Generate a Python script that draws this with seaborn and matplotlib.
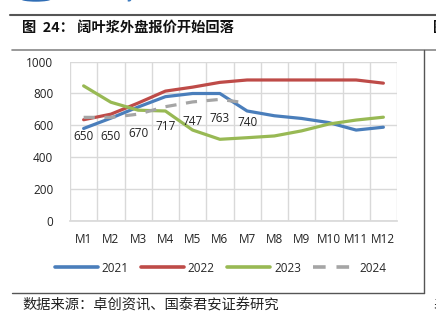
import numpy as np
import pandas as pd
import matplotlib
matplotlib.use("Agg")
import matplotlib.pyplot as plt
import seaborn as sns
from matplotlib.lines import Line2D
from matplotlib.patches import Ellipse

months = ["M1", "M2", "M3", "M4", "M5", "M6", "M7", "M8", "M9", "M10", "M11", "M12"]
v2021 = [580, 645, 715, 780, 800, 800, 690, 660, 643, 617, 570, 588]
v2022 = [635, 670, 740, 815, 840, 870, 885, 885, 885, 885, 885, 865]
v2023 = [848, 745, 695, 690, 570, 512, 522, 533, 565, 608, 633, 651]
v2024 = [650, 650, 670, 717, 747, 763, 740]
years = ["2021", "2022", "2023", "2024"]
colors = {"2021": "#4A7EBB", "2022": "#BE4B48", "2023": "#98B954", "2024": "#A5A5A5"}

rows = []
for yr, vals in zip(years, [v2021, v2022, v2023, v2024]):
    for i, v in enumerate(vals):
        rows.append({"month": i, "value": v, "year": yr})
df = pd.DataFrame(rows)

sns.set_theme(style="white")
plt.rcParams["font.family"] = ["Open Sans", "DejaVu Sans"]

W, H = 436, 323
fig = plt.figure(figsize=(W / 100, H / 100), dpi=100)
ax = fig.add_axes([70 / W, 1 - 220.7 / H, (397 - 70) / W, (220.7 - 61.7) / H])

sns.lineplot(data=df, x="month", y="value", hue="year", palette=colors,
             style="year", dashes={"2021": "", "2022": "", "2023": "", "2024": (3.5, 3)},
             linewidth=2.3, ax=ax, legend=False, sort=False)

for i, v in enumerate(v2024):
    ax.annotate(str(v), (i, v), xytext=(0, -14), textcoords="offset points",
                ha="center", va="center", fontsize=8.5, color="#222222")

ax.set_xlim(-0.5, 11.5)
ax.set_ylim(0, 1000)
ax.set_yticks(range(0, 1001, 200))
ax.set_xticks(range(12))
ax.set_xticklabels(months)
ax.set_xticks(np.arange(-0.5, 12, 1), minor=True)
ax.grid(False)
ax.grid(True, which="minor", axis="x", color="#D9D9D9", linewidth=1)
ax.grid(True, which="major", axis="y", color="#D9D9D9", linewidth=1)
ax.tick_params(axis="both", which="both", length=0, labelsize=8.5, colors="#222222")
ax.tick_params(axis="x", pad=9)
ax.tick_params(axis="y", pad=12)
ax.set_xlabel("")
ax.set_ylabel("")
for s in ax.spines.values():
    s.set_visible(False)
ax.spines["bottom"].set_visible(True)
ax.spines["bottom"].set_color("#D9D9D9")

handles = [Line2D([], [], color=colors[y], linewidth=2.6,
                  linestyle=(0, (3.5, 3)) if y == "2024" else "-") for y in years]
fig.legend(handles, years, loc="center", bbox_to_anchor=(221 / W, 1 - 268 / H),
           ncol=4, frameon=False, fontsize=8.5, handlelength=3.6,
           columnspacing=1.05, handletextpad=0.35)

cjk = ["Noto Sans CJK SC", "DejaVu Sans"]
fig.text(22 / W, 1 - 28 / H, "图  24： 阔叶浆外盘报价开始回落", family=cjk,
         fontsize=10.3, fontweight="bold", va="center", ha="left", color="#111111")
fig.text(22 / W, 1 - 305 / H, "数据来源：卓创资讯、国泰君安证券研究", family=cjk,
         fontsize=10.3, va="center", ha="left", color="#222222")
fig.text(433 / W, 1 - 28 / H, "图", family=cjk, fontsize=10.3, fontweight="bold",
         va="center", ha="left", color="#111111")
fig.text(433 / W, 1 - 305 / H, "表", family=cjk, fontsize=10.3,
         va="center", ha="left", color="#222222")
fig.text(78 / W, 1 + 1.5 / H, "GUOTAI JUNAN SECURITIES", fontsize=9, color="#3E7CC0",
         va="baseline", ha="left", fontweight="bold")
fig.add_artist(Ellipse((36 / W, 1 + 1.5 / H), 30 / W, 5 / H, color="#2F6DB5"))

fig.add_artist(Line2D([10 / W, 1], [1 - 15 / H] * 2, color="#555555", linewidth=1.5))
fig.add_artist(Line2D([12 / W, 1], [1 - 50 / H] * 2, color="#888888", linewidth=1.2))
fig.add_artist(Line2D([12 / W, 424 / W], [1 - 293 / H] * 2, color="#555555", linewidth=1.0))
fig.add_artist(Line2D([424 / W] * 2, [1 - 50 / H, 1 - 293 / H], color="#555555", linewidth=1.0))

fig.savefig("out.png", dpi=100)
